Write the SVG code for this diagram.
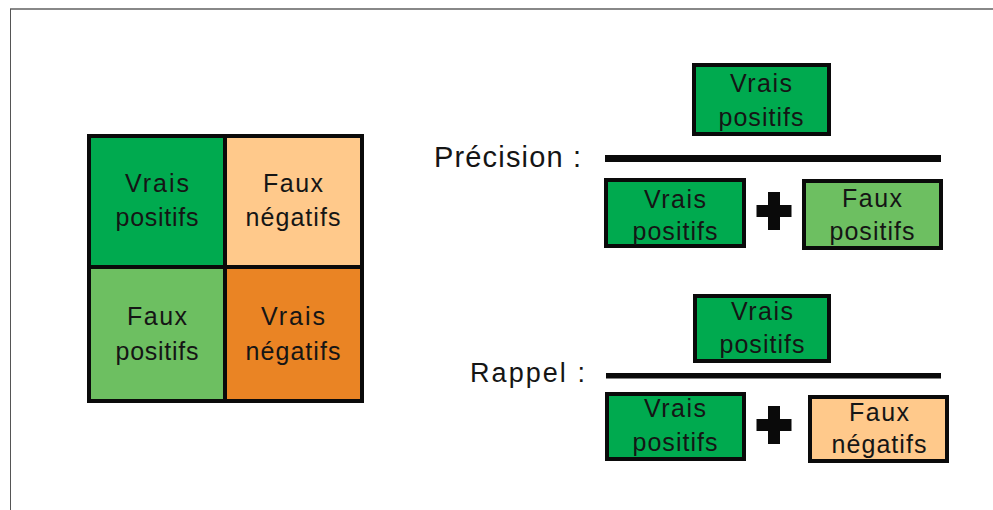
<svg xmlns="http://www.w3.org/2000/svg" width="993" height="510" viewBox="0 0 993 510">
<defs>
<style>
.t{font-family:"Liberation Sans",Arial,sans-serif;font-size:25px;fill:#151515;text-anchor:middle}
.lbl{font-family:"Liberation Sans",Arial,sans-serif;fill:#151515}
.cell{stroke:none}
.box{stroke:#0a0a0a;stroke-width:4}
.dg{fill:#00AA4F}
.lg{fill:#6DBF61}
.pe{fill:#FFC98B}
.or{fill:#EA8424}
</style>
<path id="plus" d="M-6,-19 H6 V-6 H17.5 V6 H6 V19 H-6 V6 H-17.5 V-6 H-6 Z" fill="#0a0a0a"/>
</defs>
<rect x="0" y="0" width="993" height="510" fill="#ffffff"/>
<g id="frame">
<line x1="10" y1="9" x2="993" y2="9" stroke="#888888" stroke-width="2"/>
<line x1="10.5" y1="9" x2="10.5" y2="510" stroke="#555555" stroke-width="1"/>
</g>
<g id="matrix">
<g id="cell-vp"><rect class="cell dg" x="89" y="136" width="136" height="131"/>
<text class="t" x="157" y="192" textLength="64" lengthAdjust="spacing">Vrais</text>
<text class="t" x="157" y="226" textLength="83" lengthAdjust="spacing">positifs</text></g>
<g id="cell-fn"><rect class="cell pe" x="225" y="136" width="137" height="131"/>
<text class="t" x="293" y="192" textLength="60" lengthAdjust="spacing">Faux</text>
<text class="t" x="293" y="226" textLength="95" lengthAdjust="spacing">négatifs</text></g>
<g id="cell-fp"><rect class="cell lg" x="89" y="267" width="136" height="134"/>
<text class="t" x="157" y="325" textLength="60" lengthAdjust="spacing">Faux</text>
<text class="t" x="157" y="360" textLength="83" lengthAdjust="spacing">positifs</text></g>
<g id="cell-vn"><rect class="cell or" x="225" y="267" width="137" height="134"/>
<text class="t" x="293" y="325" textLength="64" lengthAdjust="spacing">Vrais</text>
<text class="t" x="293" y="360" textLength="95" lengthAdjust="spacing">négatifs</text></g>
<rect x="89" y="136" width="273" height="265" fill="none" stroke="#0a0a0a" stroke-width="4"/>
<line x1="225" y1="136" x2="225" y2="401" stroke="#0a0a0a" stroke-width="4"/>
<line x1="89" y1="267" x2="362" y2="267" stroke="#0a0a0a" stroke-width="4"/>
</g>
<g id="precision">
<text class="lbl" x="434" y="167" font-size="29" textLength="147" lengthAdjust="spacing">Précision :</text>
<g id="p-num"><rect class="box dg" x="694" y="65" width="135" height="69"/>
<text class="t" x="761" y="92" textLength="62" lengthAdjust="spacing">Vrais</text>
<text class="t" x="761" y="126" textLength="85" lengthAdjust="spacing">positifs</text></g>
<g id="p-den-vp"><rect class="box dg" x="606" y="180" width="138" height="66"/>
<text class="t" x="675" y="208" textLength="62" lengthAdjust="spacing">Vrais</text>
<text class="t" x="675" y="240" textLength="85" lengthAdjust="spacing">positifs</text></g>
<g id="p-den-fp"><rect class="box lg" x="804" y="181" width="137" height="67"/>
<text class="t" x="872" y="207" textLength="60" lengthAdjust="spacing">Faux</text>
<text class="t" x="872" y="240" textLength="85" lengthAdjust="spacing">positifs</text></g>
</g>
<g id="rappel">
<text class="lbl" x="470" y="382" font-size="27" textLength="115" lengthAdjust="spacing">Rappel :</text>
<g id="r-num"><rect class="box dg" x="695" y="296" width="134" height="65"/>
<text class="t" x="762" y="320" textLength="62" lengthAdjust="spacing">Vrais</text>
<text class="t" x="762" y="353" textLength="85" lengthAdjust="spacing">positifs</text></g>
<g id="r-den-vp"><rect class="box dg" x="607" y="394" width="137" height="65"/>
<text class="t" x="675" y="417" textLength="62" lengthAdjust="spacing">Vrais</text>
<text class="t" x="675" y="451" textLength="85" lengthAdjust="spacing">positifs</text></g>
<g id="r-den-fn"><rect class="box pe" x="810" y="397" width="137" height="64"/>
<text class="t" x="879" y="421" textLength="60" lengthAdjust="spacing">Faux</text>
<text class="t" x="879" y="453" textLength="95" lengthAdjust="spacing">négatifs</text></g>
</g>
<g id="connectors">
<rect x="605" y="155" width="336" height="7" fill="#0a0a0a"/>
<rect x="606" y="373" width="335" height="5.5" fill="#0a0a0a"/>
<use href="#plus" x="774" y="211"/>
<use href="#plus" x="774" y="425"/>
</g>
</svg>
